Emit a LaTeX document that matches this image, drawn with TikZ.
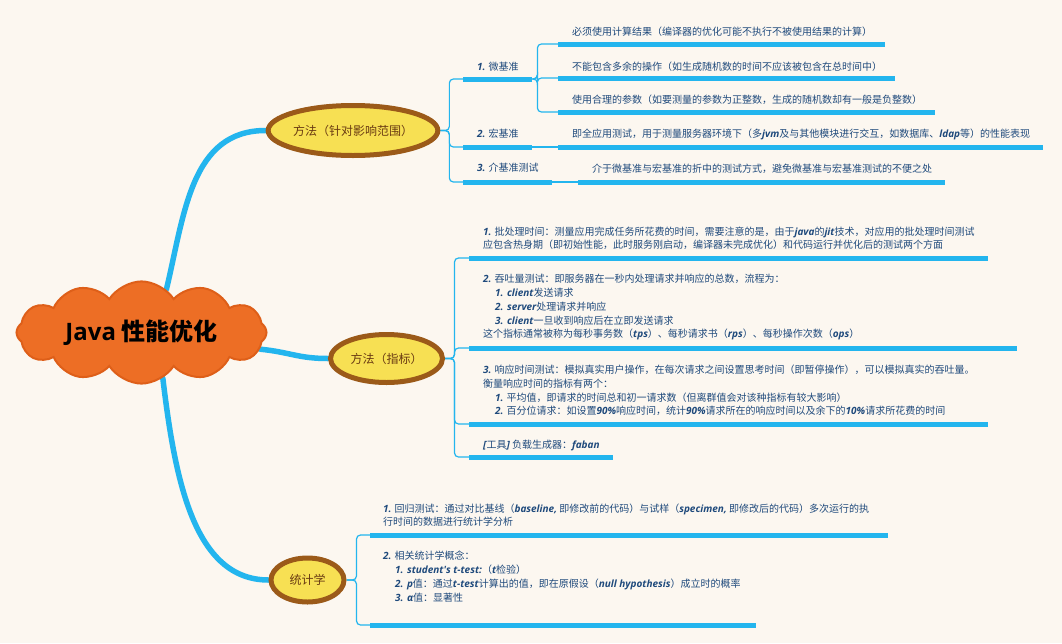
\documentclass[tikz,border=0pt]{standalone}
\usepackage{fontspec}
\setmainfont{Noto Sans CJK SC}
\newfontfamily\latinfont{Open Sans}
\usetikzlibrary{shapes.geometric,shapes.symbols,backgrounds,positioning}
\definecolor{bgcream}{RGB}{252,247,240}
\definecolor{lineblue}{RGB}{35,181,238}
\definecolor{textblue}{RGB}{31,74,124}
\definecolor{cloudfill}{RGB}{237,110,37}
\definecolor{clouddraw}{RGB}{222,95,25}
\definecolor{ovalfill}{RGB}{247,224,83}
\definecolor{ovaldraw}{RGB}{155,90,25}
\definecolor{ovaltext}{RGB}{105,58,18}
\newcommand{\en}[1]{{\latinfont\bfseries\itshape #1}}
\newcommand{\ind}{\hspace*{12pt}}

\begin{document}
\begin{tikzpicture}[x=1pt,y=-1pt]
    \tikzstyle{root}=[cloud, cloud puffs=12, cloud puff arc=115, aspect=2.9, minimum width=250pt, minimum height=90pt, inner sep=0pt, fill=cloudfill, draw=clouddraw, line width=2pt, font=\fontsize{24}{27}\selectfont\bfseries]
    \tikzstyle{oval}=[ellipse, fill=ovalfill, draw=ovaldraw, line width=5pt, inner sep=0pt, text=ovaltext, font=\fontsize{12}{14}\selectfont]
    \tikzstyle{bar}=[rectangle, fill=lineblue, inner sep=0pt, minimum height=5pt, anchor=west]
    \tikzstyle{leaf}=[anchor=base west, inner sep=0pt, align=left, text=textblue, font=\fontsize{10}{13.8}\selectfont]
    \tikzstyle{branch}=[draw=lineblue, line width=5.5pt, line cap=round]
    \tikzstyle{link}=[draw=lineblue, line width=1.2pt, rounded corners=4pt]

    % centre and main topics
    \node[root] (c) at (141.5,332.5) {{\latinfont Java} 性能优化};
    \node[oval, minimum width=167pt, minimum height=50pt] (e1) at (353,130.5) {方法（针对影响范围）};
    \node[oval, minimum width=112pt, minimum height=48pt] (e2) at (386.5,358.5) {方法（指标）};
    \node[oval, minimum width=73pt, minimum height=44pt] (e3) at (307.5,580) {统计学};

    % topic 1
    \node[bar, minimum width=69pt] (b1) at (463,79) {};
    \node[bar, minimum width=69pt] (b2) at (463,147) {};
    \node[bar, minimum width=89pt] (b3) at (463,182) {};
    \node[leaf] (t1) at (477,70.8) {\en{1.} 微基准};
    \node[leaf] (t2) at (477,137.8) {\en{2.} 宏基准};
    \node[leaf] (t3) at (477,171.8) {\en{3.} 介基准测试};

    \node[bar, minimum width=327pt] (b11) at (558,44) {};
    \node[bar, minimum width=337pt] (b12) at (558,78) {};
    \node[bar, minimum width=377pt] (b13) at (558,112) {};
    \node[bar, minimum width=485pt] (b21) at (558,147) {};
    \node[bar, minimum width=367pt] (b31) at (578,182) {};
    \node[leaf] (t11) at (572,35.8) {必须使用计算结果（编译器的优化可能不执行不被使用结果的计算）};
    \node[leaf] (t12) at (572,70.8) {不能包含多余的操作（如生成随机数的时间不应该被包含在总时间中）};
    \node[leaf] (t13) at (572,103.8) {使用合理的参数（如要测量的参数为正整数，生成的随机数却有一般是负整数）};
    \node[leaf] (t21) at (572,137.8) {即全应用测试，用于测量服务器环境下（多\en{jvm}及与其他模块进行交互，如数据库、\en{ldap}等）的性能表现};
    \node[leaf] (t31) at (592,172.8) {介于微基准与宏基准的折中的测试方式，避免微基准与宏基准测试的不便之处};

    % topic 2
    \node[bar, minimum width=519pt] (bm1) at (469,258) {};
    \node[bar, minimum width=548pt] (bm2) at (469,348) {};
    \node[bar, minimum width=519pt] (bm3) at (469,424) {};
    \node[bar, minimum width=144pt] (bm4) at (469,457) {};
    \node[leaf] (m1) at (483,248.8) {\en{1.} 批处理时间：测量应用完成任务所花费的时间，需要注意的是，由于\en{java}的\en{jit}技术，对应用的批处理时间测试\\
        应包含热身期（即初始性能，此时服务刚启动，编译器未完成优化）和代码运行并优化后的测试两个方面};
    \node[leaf] (m2) at (483,337.8) {\en{2.} 吞吐量测试：即服务器在一秒内处理请求并响应的总数，流程为：\\
        \ind\en{1. client}发送请求\\
        \ind\en{2. server}处理请求并响应\\
        \ind\en{3. client}一旦收到响应后在立即发送请求\\
        这个指标通常被称为每秒事务数（\en{tps}）、每秒请求书（\en{rps}）、每秒操作次数（\en{ops}）};
    \node[leaf] (m3) at (483,414.8) {\en{3.} 响应时间测试：模拟真实用户操作，在每次请求之间设置思考时间（即暂停操作），可以模拟真实的吞吐量。\\
        衡量响应时间的指标有两个：\\
        \ind\en{1.} 平均值，即请求的时间总和初一请求数（但离群值会对该种指标有较大影响）\\
        \ind\en{2.} 百分位请求：如设置\en{90\%}响应时间，统计\en{90\%}请求所在的响应时间以及余下的\en{10\%}请求所花费的时间};
    \node[leaf] (m4) at (483,448.8) {\en{[}工具\en{]} 负载生成器：\en{faban}};

    % topic 3
    \node[bar, minimum width=518pt] (bs1) at (370,535) {};
    \node[bar, minimum width=386pt] (bs2) at (370,625) {};
    \node[leaf] (s1) at (383,525.8) {\en{1.} 回归测试：通过对比基线（\en{baseline,} 即修改前的代码）与试样（\en{specimen,} 即修改后的代码）多次运行的执\\
        行时间的数据进行统计学分析};
    \node[leaf, font=\fontsize{10}{14}\selectfont] (s2) at (383,601.8) {\en{2.} 相关统计学概念：\\
        \ind\en{1. student's t-test:}（\en{t}检验）\\
        \ind\en{2. p}值：通过\en{t-test}计算出的值，即在原假设（\en{null hypothesis}）成立时的概率\\
        \ind\en{3. α}值：显著性};

    \begin{scope}[on background layer]
        \fill[bgcream] (0,0) rectangle (1062,643);
        % main branches
        \draw[branch] (c.60) .. controls +(18,-75) and +(-75,0) .. (e1.west);
        \draw[branch] (c.-8) .. controls +(30,3) and +(-30,0) .. (e2.west);
        \draw[branch] (c.-65) .. controls +(12,100) and +(-75,0) .. (e3.west);
        % brackets
        \foreach \b in {b1,b2,b3}
            \draw[link] (e1.east) -- ++(9,0) |- (\b.west);
        \foreach \b in {b11,b12,b13}
            \draw[link] (b1.east) -- ++(5,0) |- (\b.west);
        \draw[link] (b2.east) -- (b21.west);
        \draw[link] (b3.east) -- (b31.west);
        \foreach \b in {bm1,bm2,bm3,bm4}
            \draw[link] (e2.east) -- ++(9.5,0) |- (\b.west);
        \foreach \b in {bs1,bs2}
            \draw[link] (e3.east) -- ++(10,0) |- (\b.west);
    \end{scope}
\end{tikzpicture}
\end{document}
